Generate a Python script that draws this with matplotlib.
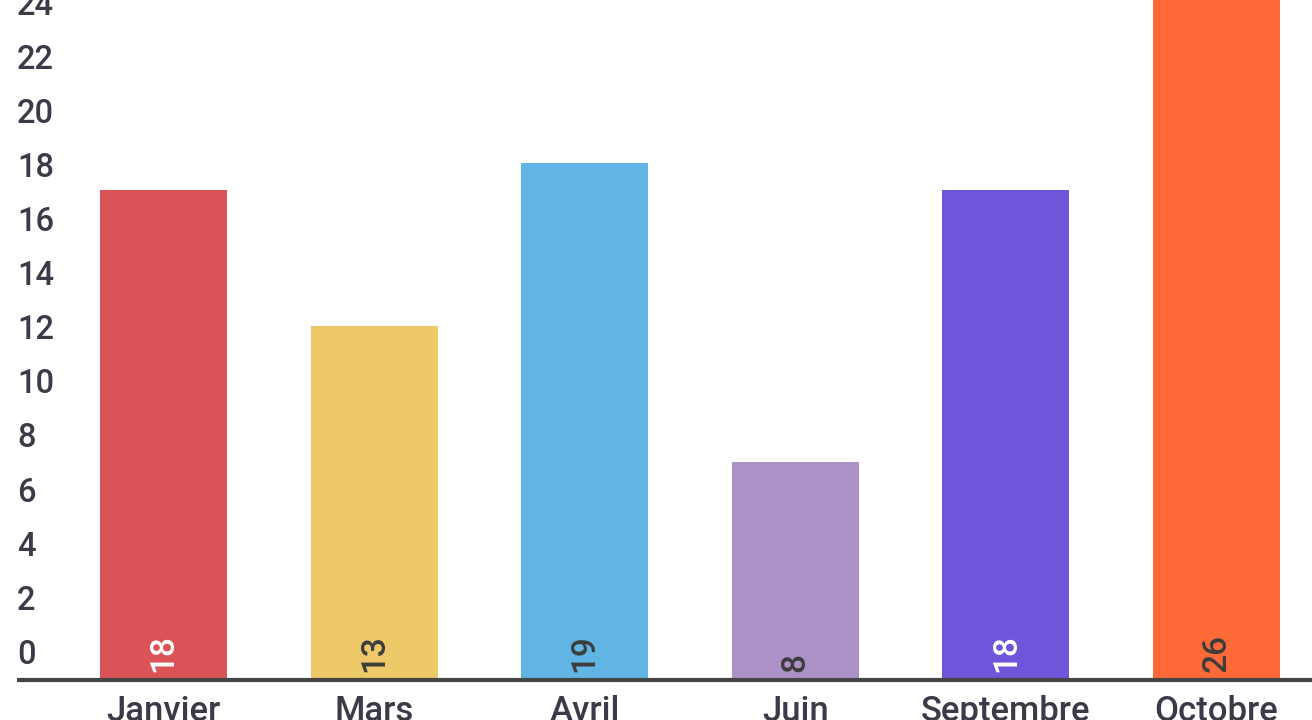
import matplotlib
matplotlib.use("Agg")
import matplotlib.pyplot as plt

# données
mois = ["Janvier", "Mars", "Avril", "Juin", "Septembre", "Octobre"]
valeurs = [18, 13, 19, 8, 18, 26]
couleurs = ["#d95357", "#edc96a", "#60b5e4", "#ab91c5", "#6f55d9", "#fd6a37"]
couleurs_texte = ["white", "#3d3d3d", "#3d3d3d", "#3d3d3d", "white", "#3d3d3d"]
graduations = list(range(0, 26, 2))

plt.rcParams["font.family"] = ["Roboto", "DejaVu Sans"]

fig = plt.figure(figsize=(13.12, 7.2), dpi=100)
ax = fig.add_axes([0, 0, 1, 1])
ax.set_xlim(-0.776, 5.453)
ax.set_ylim(-1.47, 24.98)
ax.axis("off")

x = list(range(len(mois)))
ax.bar(x, valeurs, width=0.603, color=couleurs, zorder=2)

# ligne de base
ax.plot([-0.695, 5.453], [0, 0], color="#454545", lw=3, zorder=3,
        solid_capstyle="butt")

# étiquettes de l'axe y (posées au-dessus de la graduation)
for g in graduations:
    ax.text(-0.695, g * 0.994 + 0.92, str(g), ha="left", va="center",
            fontsize=23.5, color="#3a3a48", fontweight="medium")

# valeurs dans les barres
for xi, v, c in zip(x, valeurs, couleurs_texte):
    ax.text(xi, 0.3, str(v), rotation=90, ha="center", va="bottom",
            fontsize=24, color=c, fontweight="medium", zorder=4)

# noms des mois
for xi, m in zip(x, mois):
    ax.text(xi, -0.55, m, ha="center", va="top", fontsize=25,
            color="#3a3a48", fontweight="medium")

fig.savefig("out.png", dpi=100)
